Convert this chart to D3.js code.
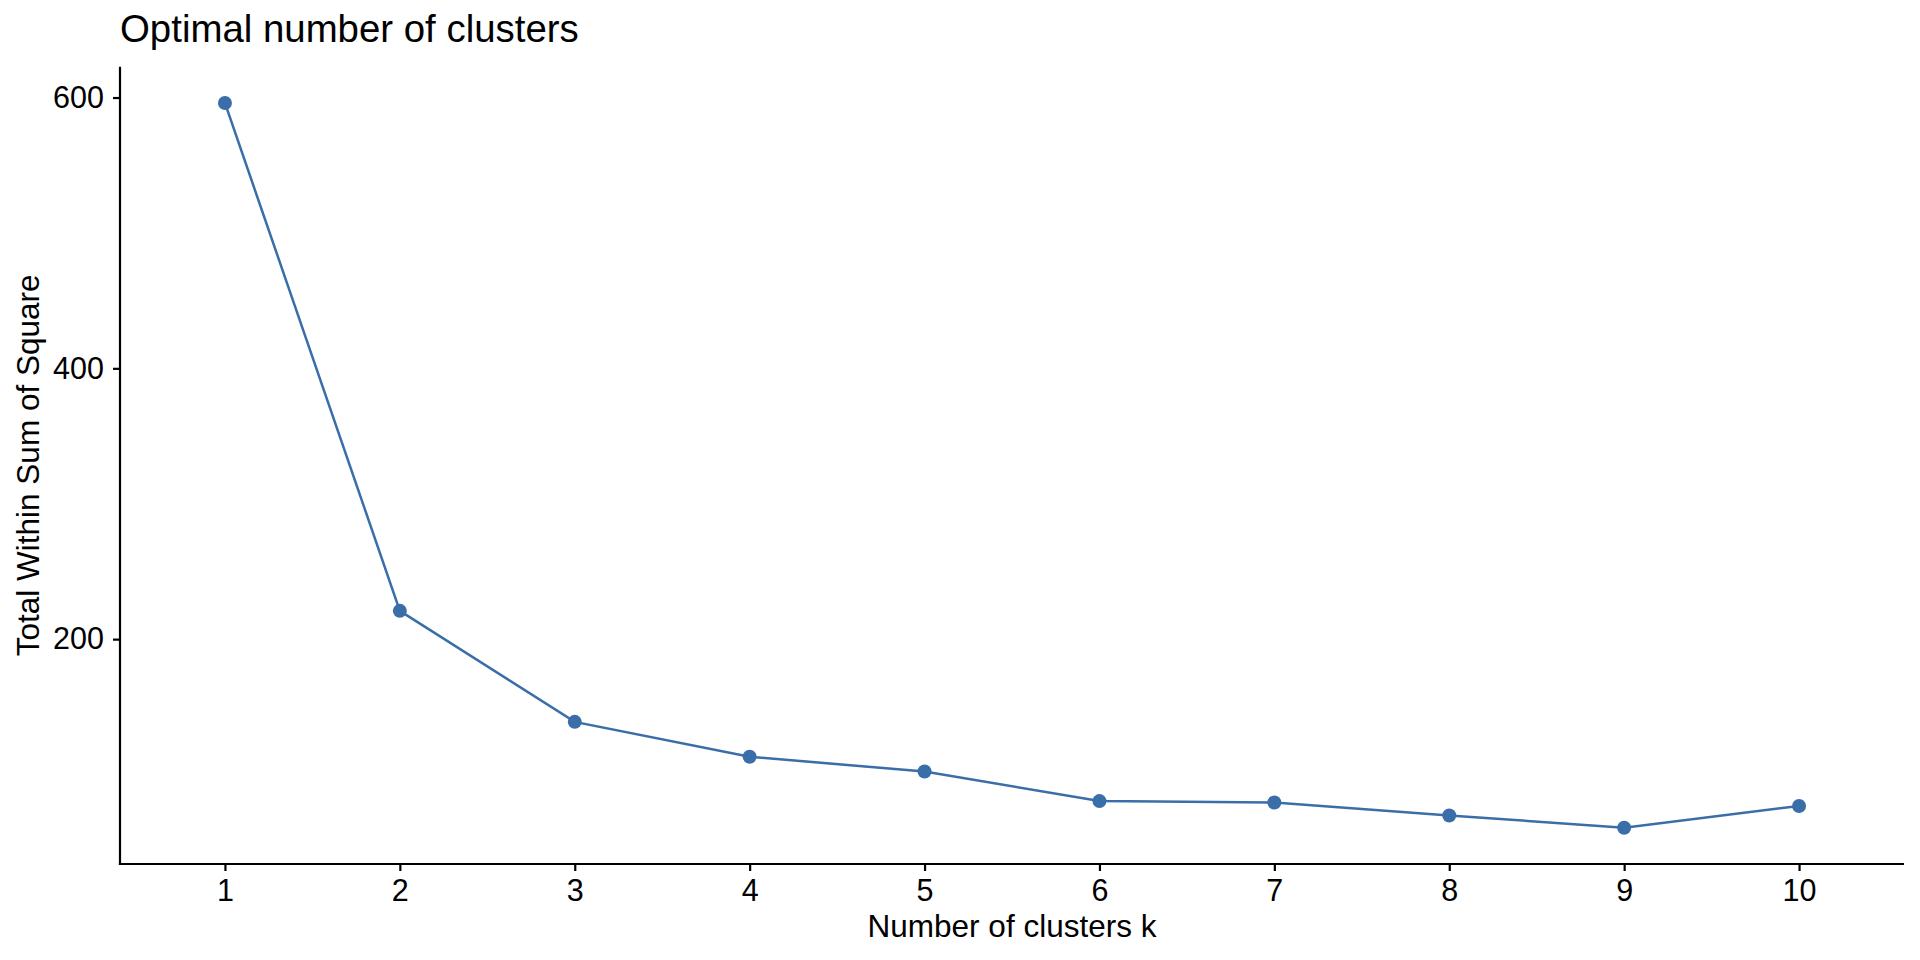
<!DOCTYPE html>
<html>
<head>
<meta charset="utf-8">
<script src="https://cdn.jsdelivr.net/npm/d3@7"></script>
<style>
  body { margin: 0; background: #fff; }
  text { font-family: "Liberation Sans", Arial, sans-serif; fill: #000; }
</style>
</head>
<body>
<div class="chart-box"></div>
<script>
let width = 1920;
let height = 960;

// elbow data
let clusters = [1, 2, 3, 4, 5, 6, 7, 8, 9, 10];
let wss = [596, 220.9, 138.9, 113.1, 102.3, 80.4, 79.4, 69.8, 60.7, 76.8];
let yTicks = [200, 400, 600];

let titleText = "Optimal number of clusters";
let xLabel = "Number of clusters k";
let yLabel = "Total Within Sum of Square";

let margin = {top: 66.7, right: 16, bottom: 96, left: 120};
let lineColor = "#3a6ea8";

let svg = d3.select(".chart-box")
  .append("svg")
  .attr("width", width)
  .attr("height", height);

let x = d3.scalePoint()
  .domain(clusters)
  .range([margin.left, width - margin.right])
  .padding(0.6);

// ggplot-style 5% expansion on the y range
let yMin = d3.min(wss), yMax = d3.max(wss);
let pad = (yMax - yMin) * 0.05;
let y = d3.scaleLinear()
  .domain([yMin - pad, yMax + pad])
  .range([height - margin.bottom, margin.top]);

let xAxis = svg.append("g")
  .attr("transform", `translate(0,${height - margin.bottom})`)
  .call(d3.axisBottom(x).tickSize(7).tickPadding(8).tickSizeOuter(0));

let yAxis = svg.append("g")
  .attr("transform", `translate(${margin.left},0)`)
  .call(d3.axisLeft(y).tickValues(yTicks).tickSize(7).tickPadding(9).tickSizeOuter(0));

[xAxis, yAxis].forEach(g => {
  g.select(".domain").attr("stroke", "#000").attr("stroke-width", 2.2)
  g.selectAll(".tick line").attr("stroke", "#000").attr("stroke-width", 2.2)
  g.selectAll(".tick text").attr("font-size", 30.5).attr("fill", "#000")
});

// make the two axis lines meet at the corner
xAxis.select(".domain").attr("d", `M${margin.left - 1.1},0H${width - margin.right}`);
yAxis.select(".domain").attr("d", `M0,${margin.top}V${height - margin.bottom + 1.1}`);

let line = d3.line()
  .x((d, i) => x(clusters[i]))
  .y(d => y(d));

svg.append("path")
  .datum(wss)
  .attr("fill", "none")
  .attr("stroke", lineColor)
  .attr("stroke-width", 2.5)
  .attr("d", line);

svg.append("g")
  .selectAll("circle")
  .data(wss)
  .enter()
  .append("circle")
  .attr("cx", (d, i) => x(clusters[i]))
  .attr("cy", d => y(d))
  .attr("r", 7)
  .attr("fill", lineColor);

svg.append("text")
  .attr("x", 120)
  .attr("y", 42)
  .attr("font-size", 38.4)
  .text(titleText);

svg.append("text")
  .attr("x", (margin.left + width - margin.right) / 2)
  .attr("y", 937)
  .attr("text-anchor", "middle")
  .attr("font-size", 31.5)
  .text(xLabel);

svg.append("text")
  .attr("transform", `translate(39,${(margin.top + height - margin.bottom) / 2}) rotate(-90)`)
  .attr("text-anchor", "middle")
  .attr("font-size", 31.5)
  .text(yLabel);
</script>
</body>
</html>
